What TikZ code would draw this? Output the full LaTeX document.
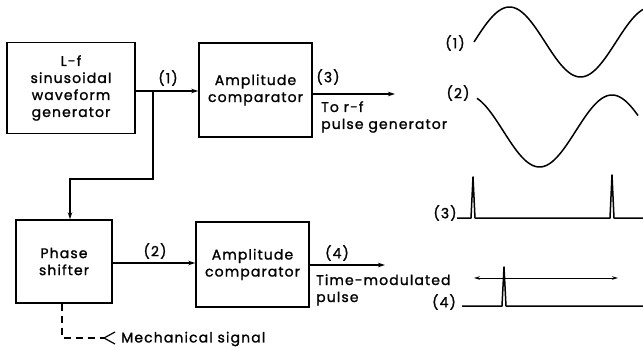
\documentclass[tikz,border=0pt]{standalone}
\usepackage{fontspec}
\setmainfont{Poppins}[LetterSpace=8, FakeBold=1.3]
\usetikzlibrary{arrows.meta}
\begin{document}
\begin{tikzpicture}[x=1pt,y=-1pt,
  txt/.style={font=\fontsize{14}{17}\selectfont, inner sep=0pt},
  box/.style={draw, line width=1.4pt, align=center, inner sep=0pt, txt},
  conn/.style={line width=1.2pt, -{Stealth[length=7pt,width=4.5pt]}},
  wave/.style={line width=1.5pt, line join=round},
  thin/.style={line width=1pt}]
\useasboundingbox (0,0) rectangle (643,350);

% blocks
\node[box, minimum width=128pt, minimum height=91pt] (gen) at (71,88) {L-f\\sinusoidal\\waveform\\generator};
\node[box, minimum width=113pt, minimum height=94pt] (amp1) at (255.5,90) {Amplitude\\comparator};
\node[box, minimum width=96pt, minimum height=83pt] (phase) at (64,261.5) {Phase\\shifter};
\node[box, minimum width=113pt, minimum height=85pt] (amp2) at (252.5,264.5) {Amplitude\\comparator};

% connectors
\coordinate (br) at (153,91);
\coordinate (turn) at (153,179);
\draw[conn] (gen.east |- br) -- (amp1.west |- br);
\draw[conn] (br) -- (turn) -| ([xshift=6pt]phase.north);
\draw[conn] (phase.east |- 0,263) -- (amp2.west |- 0,263);
\coordinate (o3) at (395,94);
\draw[conn] (amp1.east |- o3) -- (o3);
\coordinate (o4) at (385,265);
\draw[conn] (amp2.east |- o4) -- (o4);

% mechanical signal
\coordinate (mc) at (104,338);
\draw[line width=1.2pt, dash pattern=on 7pt off 5pt] ([xshift=-2pt]phase.south) |- (mc);
\draw[line width=1.2pt] ([shift={(11,-6)}]mc) -- (mc) -- ([shift={(11,6)}]mc);
\node[txt, anchor=west] (mech) at (121,339) {Mechanical signal};

% labels on connectors
\node[txt] (l1) at (168,78) {(1)};
\node[txt] (l2) at (155,251) {(2)};
\node[txt] (l3) at (328,77) {(3)};
\node[txt] (l4) at (337,253) {(4)};
\node[txt, anchor=west, align=left] (to) at (321,117) {To r-f\\pulse generator};
\node[txt, anchor=west, align=left] (tm) at (316,290) {Time-modulated\\pulse};

% waveforms
\node[txt] (w1) at (455,43) {(1)};
\draw[wave] plot[domain=474:643, samples=90] (\x, {42 - 35*sin((\x-474)/142*360)});
\node[txt] (w2) at (458,93) {(2)};
\draw[wave] plot[domain=477:638, samples=90] (\x, {131 - 36*cos((\x-467)/145*360)});

\node[txt] (w3) at (445,213) {(3)};
\draw[wave] (457,218) -- (471,218) -- (473,177) -- (475,218) -- (610,218) -- (612,175) -- (614,218) -- (643,218);

\node[txt] (w4) at (444,302) {(4)};
\draw[wave] (462,306) -- (502,306) -- (504,267) -- (506,306) -- (643,306);
\draw[thin, {Stealth[length=6pt,width=3.5pt]}-{Stealth[length=6pt,width=3.5pt]}] (474,278) -- (618,278);
\end{tikzpicture}
\end{document}
